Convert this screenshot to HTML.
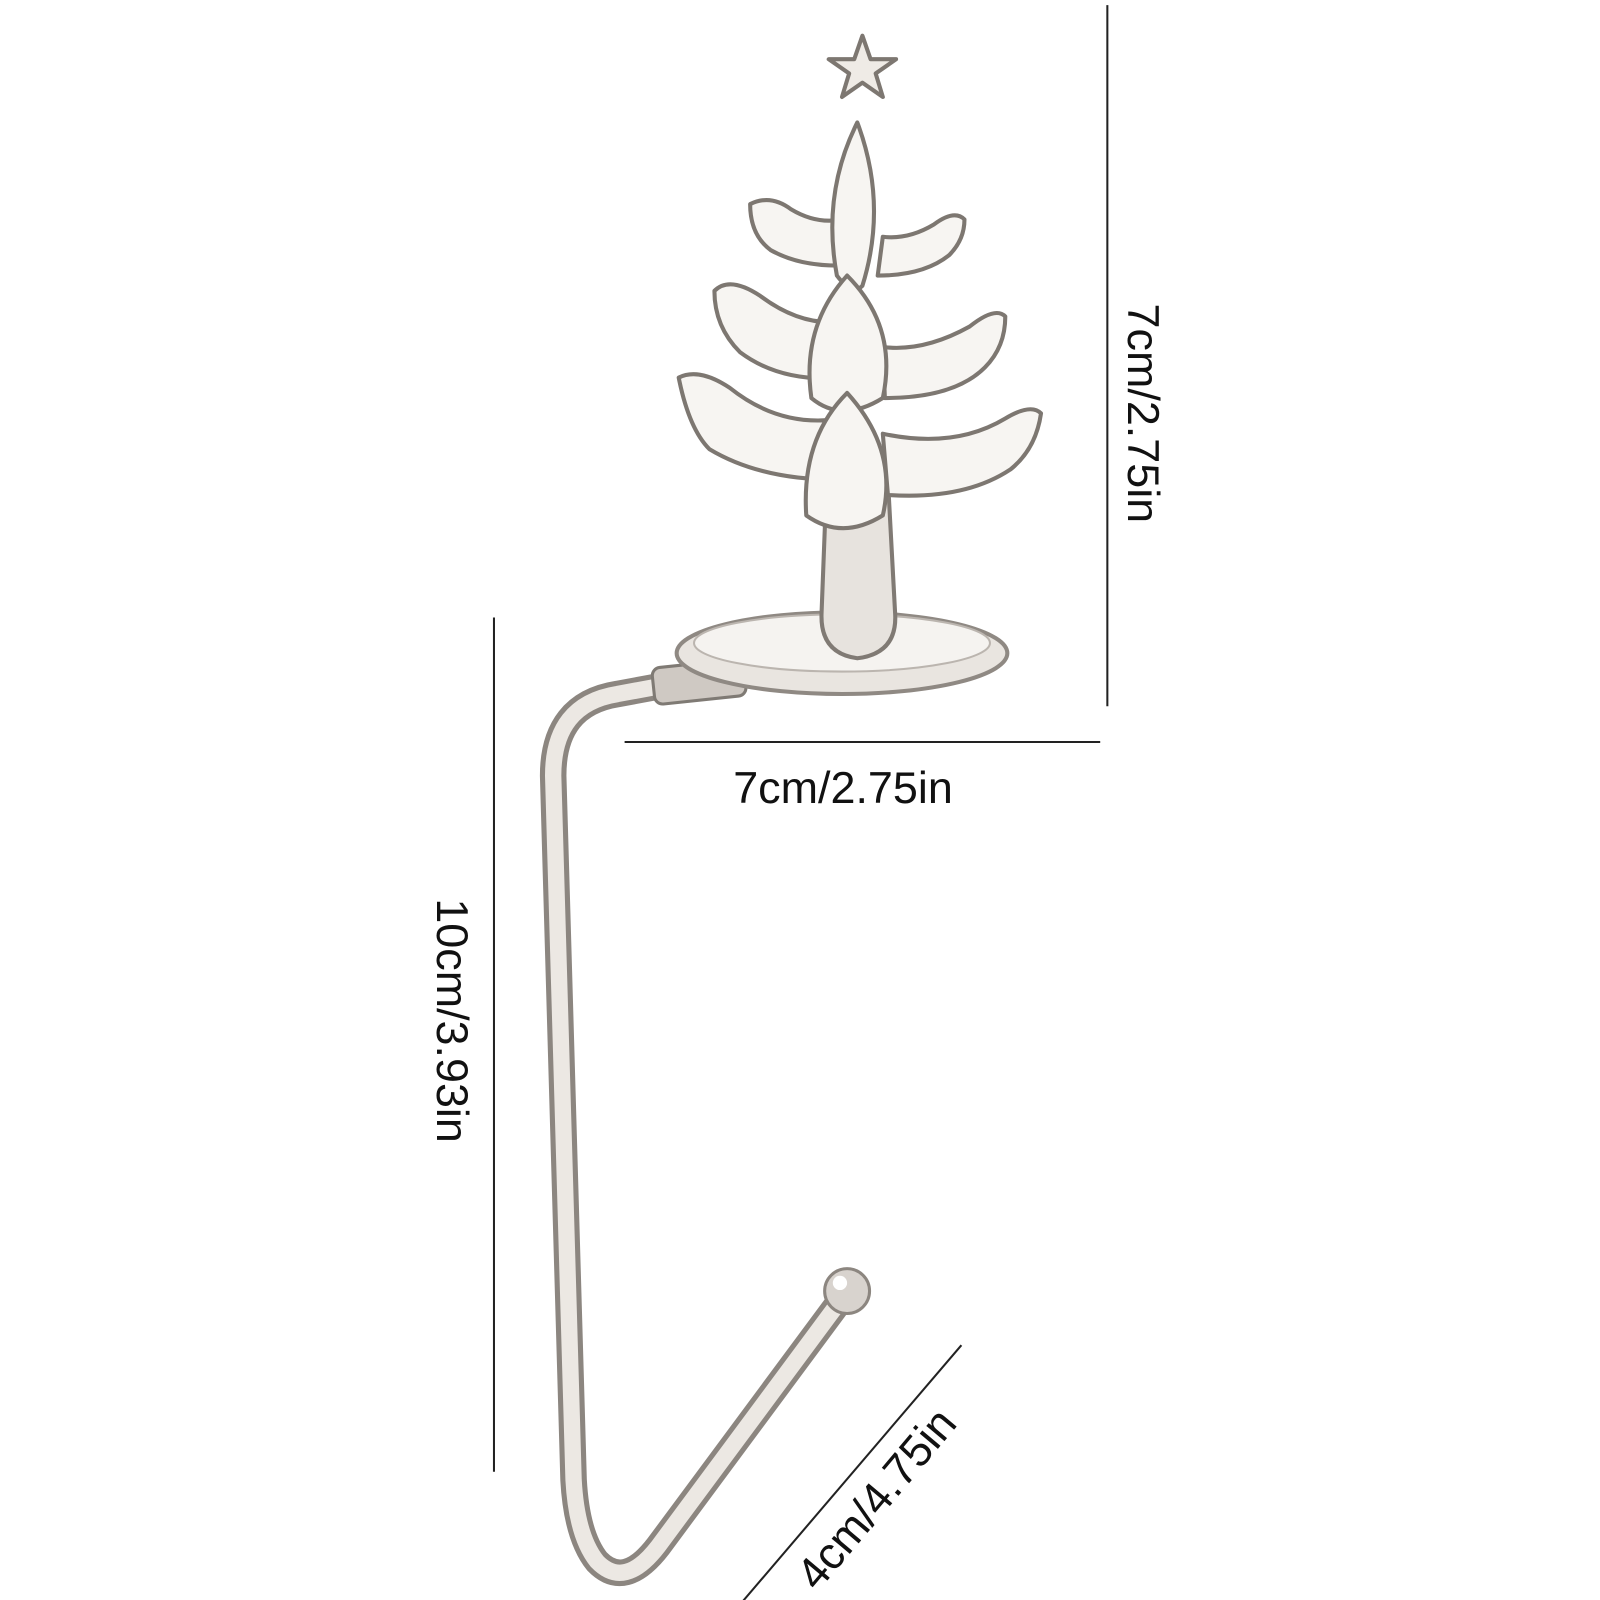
<!DOCTYPE html>
<html><head><meta charset="utf-8"><style>
html,body{margin:0;padding:0;background:#fff;}
svg{display:block}
text{font-family:"Liberation Sans",sans-serif;fill:#111;}
</style></head><body>
<svg width="1600" height="1600" viewBox="0 0 1600 1600" xmlns="http://www.w3.org/2000/svg">
<g transform="scale(1.0206)">
<g stroke="#222" stroke-width="2">
<line x1="1085" y1="5" x2="1085" y2="692"/>
<line x1="612" y1="727" x2="1078" y2="727"/>
<line x1="484" y1="605" x2="484" y2="1442"/>
<line x1="703" y1="1598" x2="942" y2="1318"/>
</g>
<text x="826" y="787" font-size="44" text-anchor="middle">7cm/2.75in</text>
<text transform="translate(1105,405) rotate(90)" font-size="44" text-anchor="middle">7cm/2.75in</text>
<text transform="translate(428,1000) rotate(90)" font-size="44" text-anchor="middle">10cm/3.93in</text>
<text transform="translate(870,1478) rotate(-50)" font-size="44" text-anchor="middle">4cm/4.75in</text>

<path d="M828,1268 L645,1515 Q612,1558 585,1530 Q565,1505 562,1450 L542,760 Q542,690 605,680 L670,668" fill="none" stroke="#8c8680" stroke-width="26" stroke-linecap="round"/>
<path d="M828,1268 L645,1515 Q612,1558 585,1530 Q565,1505 562,1450 L542,760 Q542,690 605,680 L670,668" fill="none" stroke="#ece8e3" stroke-width="16" stroke-linecap="round"/>
<circle cx="830" cy="1265" r="22" fill="#d8d3ce" stroke="#8c8680" stroke-width="3"/>
<circle cx="823" cy="1257" r="7" fill="#fff"/>
<g transform="translate(-15,0)">
<rect x="655" y="650" width="90" height="36" rx="8" fill="#cfc9c3" stroke="#7f7a74" stroke-width="3" transform="rotate(-6 700 668)"/>
<ellipse cx="840" cy="640" rx="162" ry="40" fill="#e9e5e0" stroke="#8f8983" stroke-width="4"/>
<ellipse cx="840" cy="630" rx="145" ry="28" fill="#f5f3f0" stroke="#bbb5af" stroke-width="2"/>
<path d="M825,470 L820,600 Q818,640 855,645 Q895,640 892,600 L885,470 Z" fill="#e7e3de" stroke="#807a74" stroke-width="4"/>
<g fill="#f7f5f2" stroke="#7d7771" stroke-width="4" stroke-linejoin="round">
<path d="M680,370 Q700,360 730,380 Q780,420 840,410 L835,470 Q760,470 710,440 Q690,420 680,370 Z"/>
<path d="M1035,405 Q1025,395 1000,410 Q950,440 880,425 L885,485 Q960,490 1005,460 Q1030,440 1035,405 Z"/>
<path d="M715,285 Q730,270 760,290 Q800,320 840,315 L840,370 Q780,375 740,345 Q715,320 715,285 Z"/>
<path d="M1000,310 Q990,300 965,320 Q920,345 880,340 L882,390 Q950,390 980,360 Q1000,340 1000,310 Z"/>
<path d="M750,200 Q770,190 790,205 Q815,220 840,215 L845,260 Q800,262 770,245 Q750,230 750,200 Z"/>
<path d="M960,215 Q950,205 930,220 Q905,235 880,232 L875,270 Q920,270 945,250 Q960,235 960,215 Z"/>
<path d="M855,120 Q820,190 835,270 Q850,290 860,280 Q885,200 855,120 Z"/>
<path d="M845,270 Q800,320 810,390 Q840,415 880,390 Q895,320 845,270 Z"/>
<path d="M845,385 Q800,430 805,505 Q840,530 880,505 Q895,440 845,385 Z"/>
</g>
<polygon points="860,35 868,58 893,58 873,72 880,95 860,81 840,95 847,72 827,58 852,58" fill="#efebe6" stroke="#7d7771" stroke-width="4" stroke-linejoin="round"/>
</g>
</g>
</svg>
</body></html>
